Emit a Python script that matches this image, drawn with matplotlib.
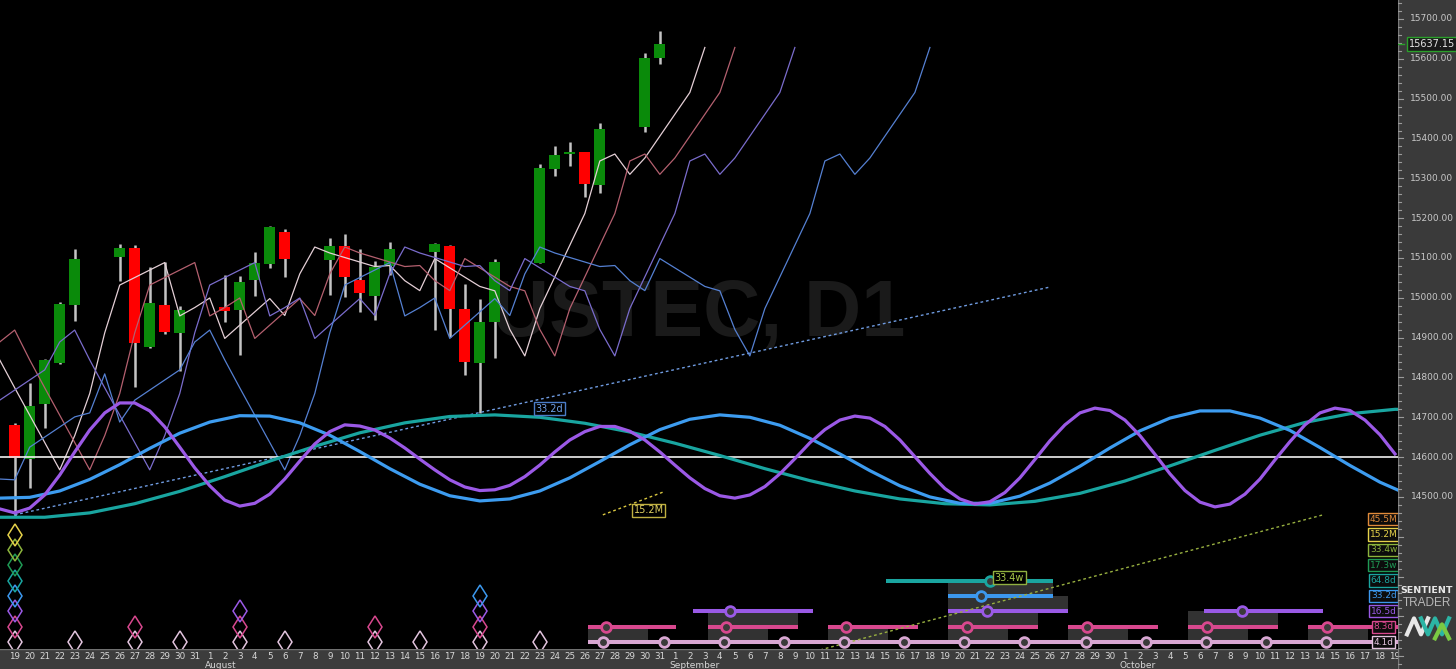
import numpy as np
import pandas as pd
import matplotlib
matplotlib.use('Agg')
import matplotlib.pyplot as plt
from matplotlib.patches import Rectangle

plt.rcParams['font.family'] = ['DejaVu Sans']

W, H = 1456, 669
start = pd.Timestamp('2021-07-19')

# ---------------- daily candles ----------------
dates = ['2021-07-19', '2021-07-20', '2021-07-21', '2021-07-22', '2021-07-23',
         '2021-07-26', '2021-07-27', '2021-07-28', '2021-07-29', '2021-07-30',
         '2021-08-02', '2021-08-03', '2021-08-04', '2021-08-05', '2021-08-06',
         '2021-08-09', '2021-08-10', '2021-08-11', '2021-08-12', '2021-08-13',
         '2021-08-16', '2021-08-17', '2021-08-18', '2021-08-19', '2021-08-20',
         '2021-08-23', '2021-08-24', '2021-08-25', '2021-08-26', '2021-08-27',
         '2021-08-30', '2021-08-31']
opens = [14681, 14595, 14733, 14836, 14982, 15102, 15125, 14877, 14982, 14912,
         14977, 14969, 15045, 15085, 15165, 15095, 15130, 15045, 15005, 15080,
         15115, 15130, 14972, 14836, 14939, 15087, 15323, 15361, 15366, 15283,
         15429, 15602]
highs = [14686, 14786, 14846, 14990, 15122, 15135, 15133, 15077, 15090, 14980,
         15057, 15055, 15115, 15180, 15173, 15150, 15160, 15122, 15092, 15140,
         15138, 15133, 15035, 14997, 15097, 15336, 15381, 15391, 15367, 15439,
         15615, 15670]
lows = [14450, 14522, 14673, 14834, 14942, 15042, 14776, 14874, 14909, 14816,
        14939, 14856, 15005, 15075, 15052, 15007, 15002, 14964, 14944, 15057,
        14919, 14902, 14806, 14711, 14849, 15087, 15306, 15331, 15253, 15263,
        15416, 15587]
closes = [14598, 14729, 14844, 14984, 15097, 15125, 14887, 14987, 14914, 14969,
          14967, 15040, 15087, 15178, 15097, 15130, 15052, 15012, 15077, 15122,
          15135, 14972, 14839, 14939, 15090, 15326, 15359, 15366, 15286, 15424,
          15602, 15637.15]

# median prices of the bars before the visible window (feed the FLDs)
pre_dates = ['2021-06-30', '2021-07-01', '2021-07-02', '2021-07-05', '2021-07-06',
             '2021-07-07', '2021-07-08', '2021-07-09', '2021-07-12', '2021-07-13',
             '2021-07-14', '2021-07-15', '2021-07-16']
pre_mid = [14545, 14543, 14625, 14701, 14711, 14809, 14688, 14743, 14819, 14889,
           14919, 14844, 14774]

# FLDs: median price displaced forward (calendar days)
fld_shift = [3, 5, 9, 18]
fld_colors = ['#e4cfd6', '#b4606f', '#7a6ccc', '#5580d2']

# cycle sine models
purple_days = np.arange(-1, 93)
purple_vals = [14470, 14460, 14472, 14505, 14555, 14613, 14668, 14711, 14736, 14736,
               14716, 14676, 14625, 14573, 14528, 14492, 14477, 14484, 14507, 14545,
               14590, 14633, 14664, 14681, 14678, 14668, 14648, 14623, 14595, 14568,
               14543, 14525, 14516, 14518, 14529, 14551, 14580, 14613, 14643, 14664,
               14677, 14677, 14665, 14643, 14613, 14580, 14548, 14521, 14503, 14497,
               14505, 14526, 14558, 14596, 14636, 14669, 14693, 14703, 14698, 14677,
               14643, 14601, 14559, 14521, 14495, 14482, 14488, 14511, 14548, 14594,
               14641, 14681, 14711, 14723, 14717, 14693, 14654, 14607, 14558, 14516,
               14487, 14475, 14482, 14507, 14545, 14593, 14639, 14681, 14711, 14723,
               14717, 14693, 14656, 14608]
blue_days = np.arange(-1, 94, 2)
blue_vals = [14497, 14499, 14515, 14544, 14581, 14622, 14660, 14688, 14704, 14703,
             14686, 14655, 14614, 14571, 14532, 14503, 14490, 14495, 14515, 14548,
             14589, 14631, 14669, 14695, 14706, 14700, 14680, 14647, 14608, 14566,
             14528, 14500, 14484, 14484, 14502, 14535, 14577, 14623, 14666, 14698,
             14716, 14716, 14698, 14667, 14624, 14579, 14537, 14504]
teal_days = np.arange(-1, 96, 3)
teal_vals = [14449, 14449, 14460, 14483, 14514, 14551, 14590, 14627, 14661, 14686,
             14702, 14706, 14700, 14685, 14663, 14635, 14604, 14571, 14541, 14515,
             14495, 14483, 14480, 14489, 14509, 14540, 14578, 14617, 14655, 14687,
             14709, 14720, 14719]

ref_level = 14600
trend_33d_days, trend_33d_px = [0, 69.0], [14455, 15027]
trend_15m_days, trend_15m_px = [39.2, 43.2], [14455, 14512]
trend_33w_days, trend_33w_px = [53.7, 87.2], [14116, 14455]

# cycle phasing panel
cycle_names = ['4.1d', '8.3d', '16.5d', '33.2d', '64.8d', '17.3w', '33.4w', '15.2M', '45.5M']
cycle_colors = ['#e2c4de', '#d8488e', '#9a5ae6', '#3c98ee', '#1aa5a0', '#1f9a55',
                '#8cb43c', '#e6d24a', '#e08a3a']
line_colors = ['#d8a6d2', '#d8488e', '#9a5ae6', '#3c98ee', '#1aa5a0']
# (row, start day, end day, trough day)
cycle_segments = [
    (0, 38.2, 92.3, None),
    (1, 38.2, 44.1, 39.4), (1, 46.2, 52.2, 47.4), (1, 54.2, 60.2, 55.4),
    (1, 62.2, 68.2, 63.5), (1, 70.2, 76.2, 71.5), (1, 78.2, 84.2, 79.5),
    (1, 86.2, 92.3, 87.5),
    (2, 45.2, 53.2, 47.7), (2, 62.2, 70.2, 64.8), (2, 79.3, 87.2, 81.8),
    (3, 62.2, 69.2, 64.4),
    (4, 58.1, 69.2, 65.0),
]
fast_troughs = [39.2, 43.3, 47.3, 51.3, 55.3, 59.3, 63.3, 67.3, 71.4, 75.4, 79.4,
                83.4, 87.4]
# (start day, end day, lower row, upper row)
cycle_boxes = [(38.2, 42.2, 0, 1), (46.2, 50.2, 0, 1), (46.2, 52.2, 1, 2),
               (54.2, 58.2, 0, 1), (62.2, 66.2, 0, 1), (62.2, 68.2, 1, 2),
               (62.2, 70.2, 2, 3), (62.2, 69.2, 3, 4), (70.2, 74.2, 0, 1),
               (78.2, 82.2, 0, 1), (78.2, 84.2, 1, 2), (86.2, 90.2, 0, 1)]
# past troughs: (day, highest row)
past_troughs = [(0, 7), (4, 0), (8, 1), (11, 0), (15, 2), (18, 0), (24, 1),
                (27, 0), (31, 3), (35, 0)]

# ---------------- figure ----------------
fig = plt.figure(figsize=(W / 100, H / 100), dpi=100, facecolor='black')
rect = [0, 19 / H, 1398 / W, 650 / H]
xlim = (-0.98, 92.2)
ax = fig.add_axes(rect)
ax.set_xlim(*xlim)
ax.set_ylim(14115.7, 15747.7)
ax.axis('off')

ax.text(45.6, 14957, 'USTEC, D1', family='Liberation Sans', weight='bold',
        fontsize=57, color='#1a1a1a', ha='center', va='center', zorder=0)

x = np.array([(pd.Timestamp(d) - start).days for d in dates])
o, h, l, c = map(np.array, (opens, highs, lows, closes))
ax.vlines(x, l, h, color='#c4c4c4', lw=1.8, zorder=2)
up = c >= o
body = np.where(np.abs(c - o) < 4, 4, c - o)
ax.bar(x, body, bottom=o, width=0.72, color=np.where(up, '#0a8a0a', '#ff0000'),
       zorder=3)

px = np.array([(pd.Timestamp(d) - start).days for d in pre_dates])
all_x = np.concatenate([px, x])
all_mid = np.concatenate([pre_mid, (h + l) / 2])
for s, col in zip(fld_shift, fld_colors):
    ax.plot(all_x + s, all_mid, color=col, lw=0.9, zorder=4)

ax.plot(trend_33d_days, trend_33d_px, color='#6f9be0', lw=1.0, ls=(0, (2, 2)), zorder=4)
ax.plot(trend_15m_days, trend_15m_px, color='#d8c640', lw=1.0, ls=(0, (2, 2)), zorder=4)

ax.axhline(ref_level, color='#f0f0f0', lw=1.2, zorder=5)
ax.plot(teal_days, teal_vals, color='#19a5a0', lw=2.3, zorder=6)
ax.plot(blue_days, blue_vals, color='#3d9cf0', lw=2.3, zorder=6)
ax.plot(purple_days, purple_vals, color='#9b59e6', lw=2.3, zorder=6)

lbl = dict(fontsize=7, ha='center', va='center', zorder=8)
ax.text(35.62, 14722, '33.2d', color='#6f9fe6',
        bbox=dict(fc='black', ec='#4a7cc8', lw=1, pad=1.2), **lbl)
ax.text(42.25, 14466, '15.2M', color='#e0d060',
        bbox=dict(fc='black', ec='#c0b040', lw=1, pad=1.2), **lbl)

# ---------------- cycle panel (rows) ----------------
ax2 = fig.add_axes(rect)
ax2.set_xlim(*xlim)
ax2.set_ylim(-0.52, 41.82)
ax2.axis('off')

for d0, d1, r0, r1 in cycle_boxes:
    ax2.add_patch(Rectangle((d0, r0), d1 - d0, r1 - r0, fc='#323232', ec='none',
                            zorder=1))
ax2.plot(trend_33w_days, trend_33w_px, color='#98b040', lw=1.0, ls=(0, (2, 2)),
         transform=ax.transData, zorder=3)

for row, d0, d1, tr in cycle_segments:
    ax2.plot([d0, d1], [row, row], color=line_colors[row], lw=2.9,
             solid_capstyle='butt', zorder=2)
    if tr is not None:
        ax2.plot(tr, row, 'o', ms=7, mfc='#3a3a3a', mec=line_colors[row], mew=2,
                 zorder=4)
ax2.plot(fast_troughs, [0] * len(fast_troughs), 'o', ms=7, mfc='#3a3a3a',
         mec=line_colors[0], mew=2, zorder=4)

for d, top in past_troughs:
    for r in range(top + 1):
        ax2.plot(d, r, 'd', ms=11.5, mfc='none', mec=cycle_colors[r], mew=1.1,
                 zorder=3)

ax2.text(66.29, 4.2, '33.4w', color='#a8c848', fontsize=7, ha='center',
         va='center', zorder=8, bbox=dict(fc='black', ec='#90b040', lw=1, pad=1.2))

for r, (name, col) in enumerate(zip(cycle_names, cycle_colors)):
    ax2.text(91.25, r, name, color=col, fontsize=6.5, ha='center', va='center',
             zorder=9, bbox=dict(fc='#0c0c0c', ec=col, lw=1, pad=1.2))

# ---------------- date bar ----------------
axd = fig.add_axes([0, 0, 1398 / W, 20 / H])
axd.set_facecolor('#3c3c3c')
axd.set_xlim(*xlim)
axd.set_ylim(0, 1)
axd.set_xticks([])
axd.set_yticks([])
for sp in axd.spines.values():
    sp.set_visible(False)
axd.axhline(0.98, color='#707070', lw=1)
days = pd.date_range('2021-07-19', '2021-10-19')
for i, dt in enumerate(days):
    axd.text(i, 0.63, str(dt.day), color='#d8d8d8', fontsize=6.3, ha='center',
             va='center')
    if dt.day == 1:
        axd.text(i - 0.35, 0.2, dt.strftime('%B'), color='#d8d8d8', fontsize=6.5,
                 ha='left', va='center')

# ---------------- price scale ----------------
axr = fig.add_axes([1398 / W, 0, 58 / W, 1])
axr.set_facecolor('#3a3a3a')
axr.set_xlim(0, 58)
axr.set_ylim(14068.0, 15747.7)
axr.set_xticks([])
axr.set_yticks([])
for sp in axr.spines.values():
    sp.set_visible(False)
axr.axvline(0.4, color='#7a7a7a', lw=1)
for p in range(14080, 15760, 20):
    axr.plot([0, 5 if p % 100 == 0 else 3], [p, p], color='#9a9a9a', lw=0.8)
for p in range(14500, 15800, 100):
    axr.text(34, p, f'{p:.2f}', color='#c8c8c8', fontsize=6.5, ha='center',
             va='center')
axr.text(34, closes[-1], f'{closes[-1]:.2f}', color='#e6e6e6', fontsize=7,
         ha='center', va='center',
         bbox=dict(fc='#1a1a1a', ec='#2aa02a', lw=1, pad=1.5))
axr.plot([0, 6], [closes[-1]] * 2, color='#2aa02a', lw=1)
axr.text(29, 14266, 'SENTIENT', color='#e8e8e8', fontsize=6.8, weight='bold',
         ha='center', va='center')
axr.text(29, 14233, 'TRADER', color='#b8b8b8', fontsize=8.5, ha='center',
         va='center', family='Liberation Sans')
axr.plot([9, 16, 23, 30], [14155, 14195, 14155, 14195], color='#e8e8e8', lw=3)
axr.plot([23, 30, 37, 44, 51], [14195, 14155, 14195, 14155, 14195],
         color='#2bb5a5', lw=3)
axr.plot([37, 44, 51], [14145, 14180, 14145], color='#7ac943', lw=3)

fig.savefig('out.png', dpi=100, facecolor='black')
